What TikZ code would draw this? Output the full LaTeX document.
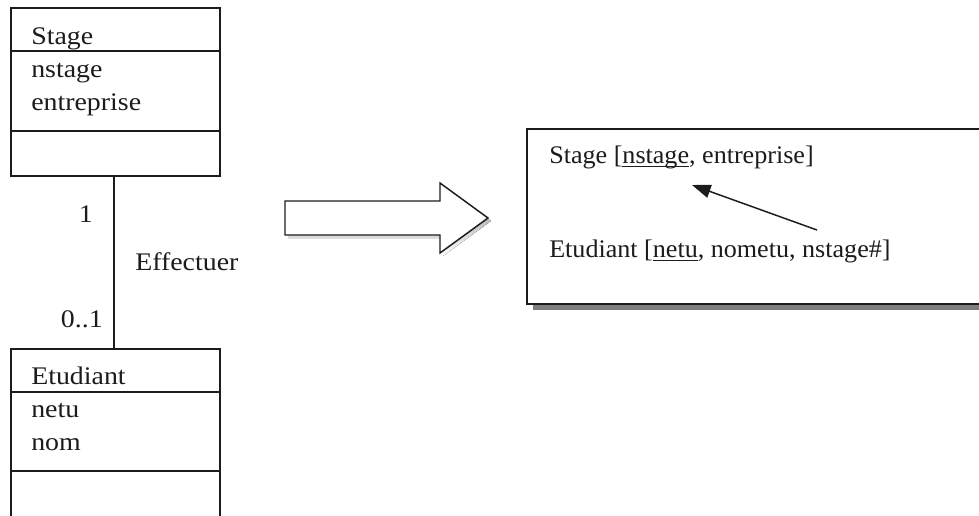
\documentclass[tikz,border=0pt]{standalone}
\usepackage{fontspec}
\setmainfont{Liberation Serif}[FakeStretch=1.1]
\newfontfamily\relfont{Liberation Serif}[FakeStretch=1.03]
\usetikzlibrary{arrows.meta,shadows}

% underline that sits just under the baseline
\newcommand\keyul[1]{\setbox0\hbox{#1}\rlap{\rule[-3.2pt]{\wd0}{0.75pt}}#1}

\definecolor{ink}{HTML}{1C1C1C}
\definecolor{shade}{HTML}{7E7E7E}

\tikzset{
  frame/.style={draw=ink, line width=1.1pt},
  classbox/.style={frame, fill=white, inner sep=0pt, minimum width=156.75pt},
  lbl/.style={inner sep=0pt, text=ink, font=\fontsize{19pt}{21pt}\selectfont},
  rlbl/.style={inner sep=0pt, text=ink, font=\relfont\fontsize{19pt}{21pt}\selectfont},
  relbox/.style={frame, fill=white, inner sep=0pt,
    drop shadow={shadow xshift=4.5pt, shadow yshift=-4.5pt, fill=shade, opacity=1}},
}

\begin{document}
\begin{tikzpicture}[x=0.75pt, y=-0.75pt]
\useasboundingbox (0,0) rectangle (979,515);

% ---- UML class: Stage ----
\node[classbox, minimum height=126pt] (stage) at (115.5,92) {};
\draw[frame] (stage.west |- 0,51) -- (stage.east |- 0,51);
\draw[frame] (stage.west |- 0,131) -- (stage.east |- 0,131);
\node[lbl, anchor=base west] (stagename) at (31,44) {Stage};
\node[lbl, anchor=base west] (stageattr1) at (31,77) {nstage};
\node[lbl, anchor=base west] (stageattr2) at (31,110) {entreprise};

% ---- UML class: Etudiant ----
\node[classbox, minimum height=143.25pt] (etud) at (115.5,444.5) {};
\draw[frame] (etud.west |- 0,392) -- (etud.east |- 0,392);
\draw[frame] (etud.west |- 0,471) -- (etud.east |- 0,471);
\node[lbl, anchor=base west] (etudname) at (31,384) {Etudiant};
\node[lbl, anchor=base west] (etudattr1) at (31,417) {netu};
\node[lbl, anchor=base west] (etudattr2) at (31,450) {nom};

% ---- association Effectuer ----
\draw[frame] ([xshift=-1.1pt]stage.south) -- ([xshift=-1.1pt]etud.north);
\node[lbl, anchor=base east] (mult1) at (93,222) {1};
\node[lbl, anchor=base east] (mult2) at (103,327) {0..1};
\node[lbl, anchor=base west] (assoc) at (135,270) {Effectuer};

% ---- block arrow (translation) ----
\fill[shade] (288,204) -- (443,204) -- (443,186) -- (491,221) -- (443,256)
  -- (443,238) -- (288,238) -- cycle;
\draw[frame, fill=white] (285,201) -- (440,201) -- (440,183) -- (488,218)
  -- (440,253) -- (440,235) -- (285,235) -- cycle;

% ---- relational schema ----
\node[relbox, minimum width=358.5pt, minimum height=131.25pt] (rel) at (766,216.5) {};
\node[rlbl, anchor=base west] (relstage) at (549,163)
  {Stage [\keyul{nstage}, entreprise]};
\node[rlbl, anchor=base west] (reletud) at (549,257)
  {Etudiant [\keyul{netu}, nometu, nstage\#]};
\coordinate (fkfrom) at (817,230);
\coordinate (fkto) at (692,185);
\draw[draw=ink, line width=1.1pt, -{Triangle[length=14pt, width=10pt]}] (fkfrom) -- (fkto);
\end{tikzpicture}
\end{document}
